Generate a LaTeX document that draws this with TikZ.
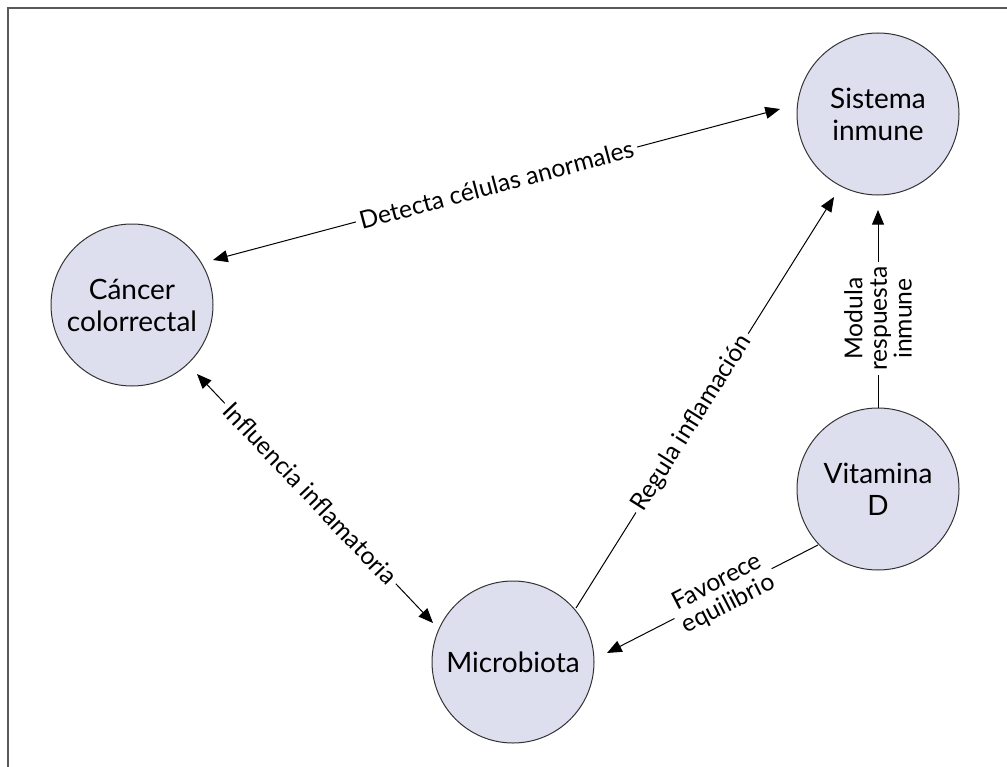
\documentclass[tikz,border=0pt]{standalone}
\usepackage{fontspec}
\setmainfont{Lato}
\usetikzlibrary{arrows.meta,calc}
\definecolor{nodefill}{RGB}{221,222,238}
\begin{document}
\begin{tikzpicture}[x=0.75pt,y=-0.75pt,
  ent/.style={circle,draw=black!80,line width=0.75pt,fill=nodefill,minimum size=121.5pt,inner sep=0pt,align=center,font=\fontsize{21}{24}\selectfont},
  conn/.style={line width=0.75pt,black},
  tip/.style={-{Triangle[length=11pt,width=9pt]}},
  tips/.style={{Triangle[length=11pt,width=9pt]}-{Triangle[length=11pt,width=9pt]}},
  lab/.style={fill=white,inner sep=3pt,font=\fontsize{18.5}{18.5}\selectfont,align=center,sloped},
  frame/.style={draw=black!65,line width=1.2pt}]
\useasboundingbox (0,0) rectangle (1007,767);
\draw[frame] (1007,8) -- (8,8) -- (8,767);

\node[ent] (sys)  at (878,114) {Sistema\\inmune};
\node[ent] (canc) at (132,305) {Cáncer\\colorrectal};
\node[ent] (vit)  at (878,489) {Vitamina\\D};
\node[ent] (mic)  at (513,662) {Microbiota};

\draw[conn,tips] ($(canc.center)+(81,-45)$) -- node[lab,pos=0.5]{Detecta células anormales} ($(sys.center)+(-98,-5)$);
\draw[conn,tips] ($(canc.center)+(65,69)$) -- node[lab,pos=0.48]{Influencia inflamatoria} ($(mic.center)+(-80,-39)$);
\draw[conn,tip] ($(mic.center)+(63,-54)$) -- node[lab,pos=0.45]{Regula inflamación} ($(sys.center)+(-44,83)$);
\draw[conn,tip] (vit.north) -- node[lab,pos=0.45]{Modula\\respuesta\\inmune} ($(sys.center)+(0,96)$);
\draw[conn,tip] ($(vit.center)+(-60,56)$) -- node[lab,pos=0.45]{Favorece\\equilibrio} ($(mic.center)+(94,-9)$);
\end{tikzpicture}
\end{document}
